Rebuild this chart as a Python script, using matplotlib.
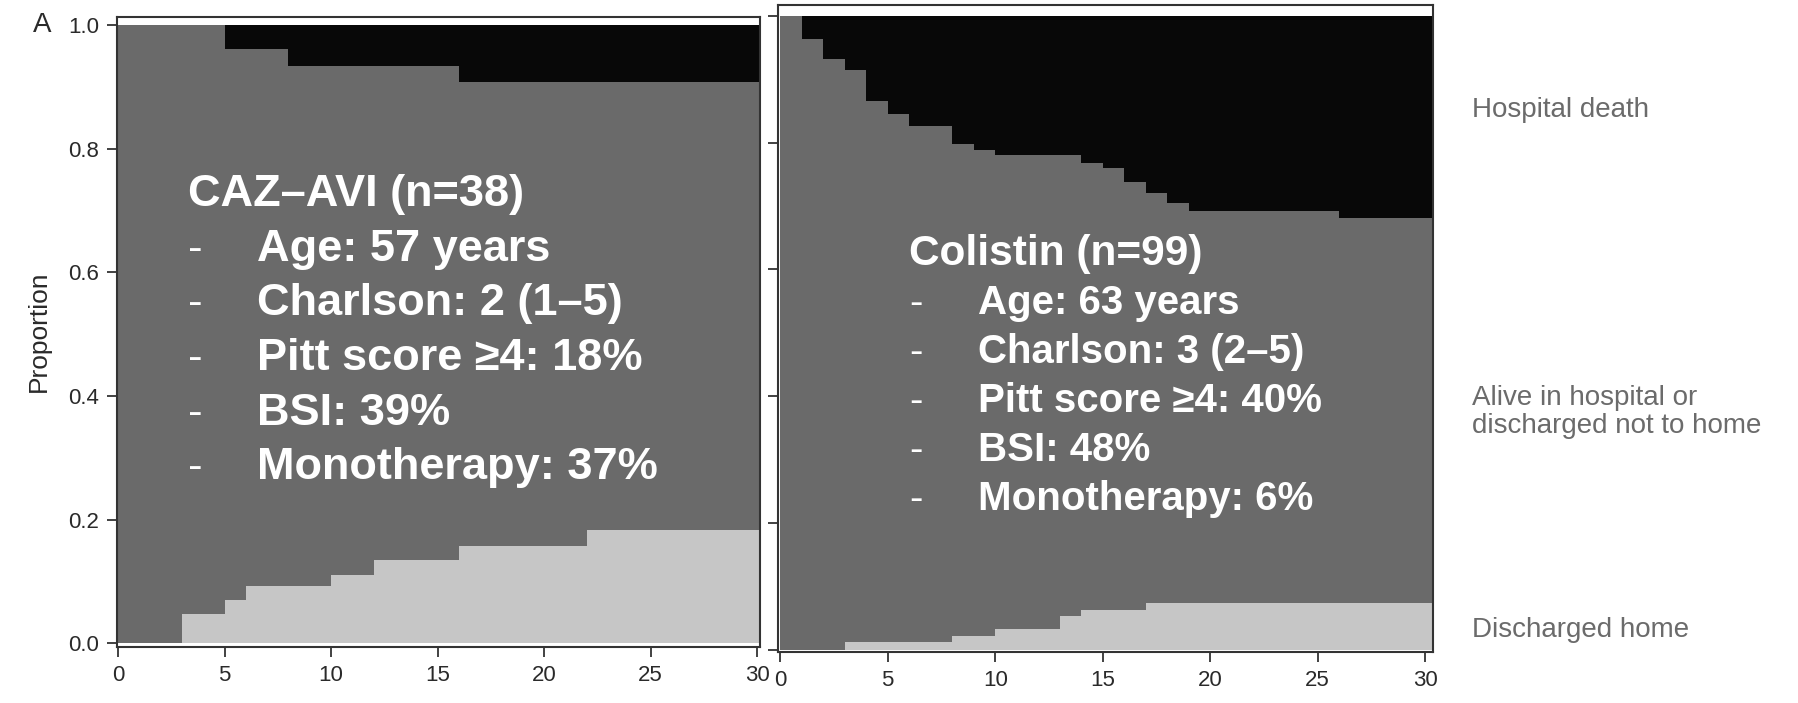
import matplotlib
matplotlib.use("Agg")
import matplotlib.pyplot as plt
import numpy as np

# cumulative incidence (days 0-30)
caz_home_days = [0, 3, 5, 6, 10, 12, 16, 22, 31]
caz_home = [0.0, 0.047, 0.070, 0.093, 0.110, 0.134, 0.157, 0.183, 0.183]
caz_death_days = [0, 5, 8, 16, 31]
caz_death = [0.0, 0.038, 0.066, 0.092, 0.092]

col_home_days = [0, 3, 8, 10, 13, 14, 17, 31]
col_home = [0.0, 0.013, 0.022, 0.033, 0.053, 0.062, 0.074, 0.074]
col_death_days = [0, 1, 2, 3, 4, 5, 6, 8, 9, 10, 14, 15, 16, 17, 18, 19, 26, 31]
col_death = [0.0, 0.037, 0.068, 0.085, 0.135, 0.155, 0.174, 0.203, 0.212, 0.220,
             0.232, 0.240, 0.262, 0.280, 0.295, 0.308, 0.319, 0.319]

caz_text = ["CAZ\u2013AVI (n=38)", "Age: 57 years", "Charlson: 2 (1\u20135)",
            "Pitt score \u22654: 18%", "BSI: 39%", "Monotherapy: 37%"]
col_text = ["Colistin (n=99)", "Age: 63 years", "Charlson: 3 (2\u20135)",
            "Pitt score \u22654: 40%", "BSI: 48%", "Monotherapy: 6%"]
state_labels = ["Hospital death", "Alive in hospital or\ndischarged not to home", "Discharged home"]

x_ticks = [0, 5, 10, 15, 20, 25, 30]
y_ticks = [0.0, 0.2, 0.4, 0.6, 0.8, 1.0]

plt.rcParams['font.family'] = ['Liberation Sans', 'DejaVu Sans']

C_HOME = "#c6c6c6"
C_ALIVE = "#6a6a6a"
C_DEATH = "#080808"
EDGE = "#333333"


def step_on(days, vals, grid):
    idx = np.searchsorted(days, grid, side='right') - 1
    return np.asarray(vals)[idx]


def draw_panel(ax, hd, hv, dd, dv, ylim):
    grid = np.unique(np.concatenate([hd, dd]))
    home = step_on(hd, hv, grid)
    top = 1 - step_on(dd, dv, grid)
    ax.fill_between(grid, 0, home, step='post', color=C_HOME, lw=0)
    ax.fill_between(grid, home, top, step='post', color=C_ALIVE, lw=0)
    ax.fill_between(grid, top, 1, step='post', color=C_DEATH, lw=0)
    ax.set_ylim(*ylim)
    ax.set_xticks(x_ticks)
    for s in ax.spines.values():
        s.set_color(EDGE)
        s.set_linewidth(1.5)
    ax.tick_params(length=7, width=1.3, color=EDGE, labelsize=16,
                   labelcolor="#2a2a2a", pad=6)


fig = plt.figure(figsize=(17.99, 7.03), dpi=100)
ax1 = fig.add_axes([0.0650, 0.0801, 0.3575, 0.8961])
ax2 = fig.add_axes([0.4325, 0.0730, 0.3641, 0.9199])

draw_panel(ax1, caz_home_days, caz_home, caz_death_days, caz_death, (-0.0055, 1.0135))
ax1.set_xlim(-0.05, 30.14)
ax1.set_yticks(y_ticks)
ax1.set_yticklabels([f"{v:.1f}" for v in y_ticks])
ax1.set_ylabel("Proportion", fontsize=19, color="#2a2a2a", labelpad=12)

draw_panel(ax2, col_home_days, col_home, col_death_days, col_death, (-0.003, 1.017))
ax2.set_xlim(-0.1, 30.37)
ax2.set_yticks(y_ticks)
ax2.set_yticklabels([])

fig.text(0.0233, 0.965, "A", fontsize=20, color="#2a2a2a", ha='center', va='center')

# white bold annotations
for i, t in enumerate(caz_text):
    y = 0.723 - i * 0.0777
    if i == 0:
        fig.text(0.1045, y, t, fontsize=32.5, color='white', weight='bold', va='center')
    else:
        fig.text(0.1045, y, "-", fontsize=31.5, color='white', va='center')
        fig.text(0.1429, y, t, fontsize=32.5, color='white', weight='bold', va='center')

for i, t in enumerate(col_text):
    y = 0.639 - i * 0.0697
    if i == 0:
        fig.text(0.5053, y, t, fontsize=30.5, color='white', weight='bold', va='center')
    else:
        fig.text(0.5053, y, "-", fontsize=29, color='white', va='center')
        fig.text(0.5434, y, t, fontsize=29, color='white', weight='bold', va='center')

for t, y in zip(state_labels, [0.843, 0.414, 0.104]):
    fig.text(0.8183, y, t, fontsize=20, color="#6b6b6b", va='center', linespacing=1.1)

fig.savefig("out.png", dpi=100)
